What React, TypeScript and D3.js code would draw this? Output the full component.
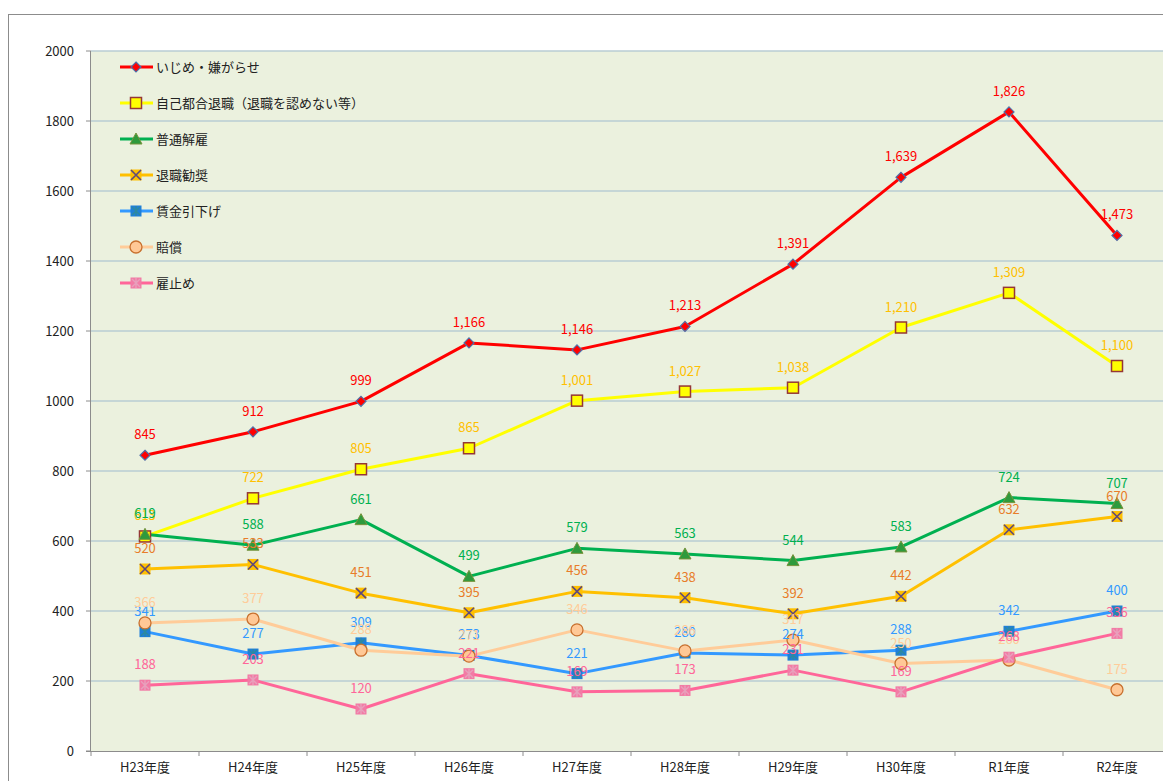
import React from "react";
import * as d3 from "d3";

const categories = ["H23年度", "H24年度", "H25年度", "H26年度", "H27年度", "H28年度", "H29年度", "H30年度", "R1年度", "R2年度"];
const yTicks = [0, 200, 400, 600, 800, 1000, 1200, 1400, 1600, 1800, 2000];

const ijime = [845, 912, 999, 1166, 1146, 1213, 1391, 1639, 1826, 1473];
const jiko = [613, 722, 805, 865, 1001, 1027, 1038, 1210, 1309, 1100];
const futsuu = [619, 588, 661, 499, 579, 563, 544, 583, 724, 707];
const kanshou = [520, 533, 451, 395, 456, 438, 392, 442, 632, 670];
const chingin = [341, 277, 309, 273, 221, 280, 274, 288, 342, 400];
const baishou = [366, 377, 288, 271, 346, 286, 317, 250, 260, 175];
const yatoidome = [188, 203, 120, 221, 169, 173, 231, 169, 268, 336];

type Marker = "diamond" | "square" | "triangle" | "xsq" | "astsq" | "circle" | "astpink";
const series: { name: string; values: number[]; line: string; label: string; marker: Marker; fill: string; stroke: string }[] = [
  { name: "いじめ・嫌がらせ", values: ijime, line: "#FF0000", label: "#FF0000", marker: "diamond", fill: "#FF0000", stroke: "#4F6FA8" },
  { name: "自己都合退職（退職を認めない等）", values: jiko, line: "#FFFF00", label: "#FFC000", marker: "square", fill: "#FFFF00", stroke: "#953735" },
  { name: "普通解雇", values: futsuu, line: "#00B050", label: "#00B050", marker: "triangle", fill: "#2E9A3C", stroke: "#77933C" },
  { name: "退職勧奨", values: kanshou, line: "#FFC000", label: "#E87D2A", marker: "xsq", fill: "#FFC000", stroke: "#5F497A" },
  { name: "賃金引下げ", values: chingin, line: "#3399FF", label: "#3399FF", marker: "astsq", fill: "#1F7FD8", stroke: "#2E8A9E" },
  { name: "賠償", values: baishou, line: "#FFCC99", label: "#FFCC99", marker: "circle", fill: "#FFC896", stroke: "#C8702E" },
  { name: "雇止め", values: yatoidome, line: "#FF6699", label: "#FF6699", marker: "astpink", fill: "#F27BA5", stroke: "#E8A0BC" },
];

const W = 1163, H = 781;
const plotLeft = 91, plotTop = 51, plotBottom = 751;
const band = 108;

function MarkerShape({ type, x, y, fill, stroke }: { type: Marker; x: number; y: number; fill: string; stroke: string }) {
  const s = 5.5;
  switch (type) {
    case "diamond":
      return <path d={`M${x},${y - 5} L${x + 5},${y} L${x},${y + 5} L${x - 5},${y} Z`} fill={fill} stroke={stroke} strokeWidth={1.2} />;
    case "square":
      return <rect x={x - s} y={y - s} width={2 * s} height={2 * s} fill={fill} stroke={stroke} strokeWidth={1.5} />;
    case "triangle":
      return <path d={`M${x},${y - 6} L${x + 6},${y + 5} L${x - 6},${y + 5} Z`} fill={fill} stroke={stroke} strokeWidth={1} />;
    case "xsq":
      return (
        <g>
          <rect x={x - s} y={y - s} width={2 * s} height={2 * s} fill={fill} />
          <path d={`M${x - 5},${y - 5} L${x + 5},${y + 5} M${x + 5},${y - 5} L${x - 5},${y + 5}`} stroke={stroke} strokeWidth={1.6} />
        </g>
      );
    case "astsq":
      return (
        <g>
          <rect x={x - s} y={y - s} width={2 * s} height={2 * s} fill={fill} />
          <path d={`M${x - 4},${y - 4} L${x + 4},${y + 4} M${x + 4},${y - 4} L${x - 4},${y + 4} M${x},${y - 5} L${x},${y + 5}`} stroke={stroke} strokeWidth={1.4} />
        </g>
      );
    case "circle":
      return <circle cx={x} cy={y} r={6} fill={fill} stroke={stroke} strokeWidth={1.3} />;
    case "astpink":
      return (
        <g>
          <rect x={x - s} y={y - s} width={2 * s} height={2 * s} fill={fill} />
          <path d={`M${x - 4},${y - 4} L${x + 4},${y + 4} M${x + 4},${y - 4} L${x - 4},${y + 4} M${x},${y - 5} L${x},${y + 5}`} stroke={stroke} strokeWidth={1.4} />
        </g>
      );
  }
}

export default function App() {
  const x = d3.scaleBand<string>().domain(categories).range([plotLeft, plotLeft + band * categories.length]);
  const y = d3.scaleLinear().domain([0, 2000]).range([plotBottom, plotTop]);
  const cx = (c: string) => (x(c) as number) + x.bandwidth() / 2;
  const line = d3.line<number>().x((_, i) => cx(categories[i])).y((v) => y(v));
  const fmt = d3.format(",");
  const font = "'Noto Sans CJK JP', 'Noto Sans', sans-serif";

  return (
    <svg width={W} height={H} style={{ position: "absolute", left: 0, top: 0 }} fontFamily={font}>
      <rect x={0} y={0} width={W} height={H} fill="#fff" />
      <rect x={8.5} y={14.5} width={W + 10} height={H + 10} fill="#fff" stroke="#8c8c8c" strokeWidth={1} />
      <rect x={plotLeft} y={plotTop} width={W} height={plotBottom - plotTop} fill="#EBF1DE" />
      {yTicks.map((t) => (
        <g key={t}>
          {t > 0 && <line x1={plotLeft} x2={W} y1={y(t)} y2={y(t)} stroke="#B9CDD3" strokeWidth={1.3} />}
          <line x1={plotLeft - 5} x2={plotLeft} y1={y(t)} y2={y(t)} stroke="#8c8c8c" />
          <text x={74} y={y(t)} dy="0.35em" textAnchor="end" fontSize={13} fill="#222">{t}</text>
        </g>
      ))}
      <line x1={plotLeft - 0.5} x2={plotLeft - 0.5} y1={plotTop} y2={plotBottom} stroke="#8c8c8c" />
      <line x1={plotLeft - 5} x2={W} y1={plotBottom + 0.5} y2={plotBottom + 0.5} stroke="#8c8c8c" />
      {categories.map((c) => (
        <g key={c}>
          <line x1={x(c) as number} x2={x(c) as number} y1={plotBottom} y2={plotBottom + 5} stroke="#8c8c8c" />
          <text x={cx(c)} y={772} textAnchor="middle" fontSize={13} fill="#222">{c}</text>
        </g>
      ))}
      {series.map((s) => (
        <path key={s.name} d={line(s.values) || ""} fill="none" stroke={s.line} strokeWidth={3} strokeLinejoin="round" />
      ))}
      {series.map((s) => (
        <g key={s.name + "m"}>
          {s.values.map((v, i) => (
            <MarkerShape key={i} type={s.marker} x={cx(categories[i])} y={y(v)} fill={s.fill} stroke={s.stroke} />
          ))}
        </g>
      ))}
      {series.map((s) => (
        <g key={s.name + "l"}>
          {s.values.map((v, i) => (
            <text key={i} x={cx(categories[i])} y={y(v) - 16} textAnchor="middle" fontSize={13} fill={s.label}>{fmt(v)}</text>
          ))}
        </g>
      ))}
      {series.map((s, i) => {
        const ly = 67 + i * 36;
        return (
          <g key={s.name + "lg"}>
            <line x1={120} x2={153} y1={ly} y2={ly} stroke={s.line} strokeWidth={3} />
            <MarkerShape type={s.marker} x={136} y={ly} fill={s.fill} stroke={s.stroke} />
            <text x={156} y={ly} dy="0.35em" fontSize={13} fill="#222">{s.name}</text>
          </g>
        );
      })}
    </svg>
  );
}
